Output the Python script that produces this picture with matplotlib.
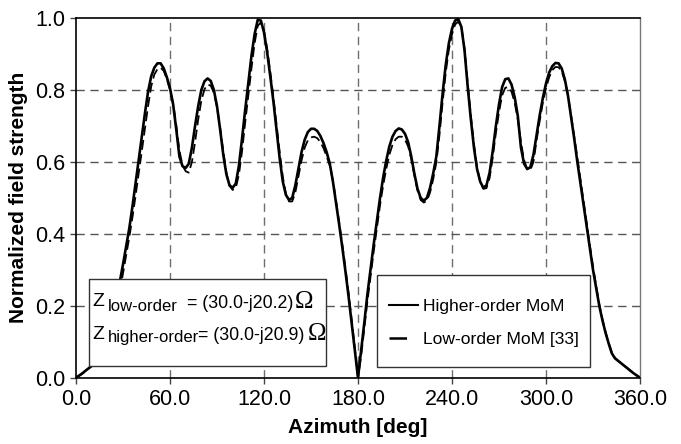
import matplotlib
matplotlib.use("Agg")
import matplotlib.pyplot as plt
from matplotlib.lines import Line2D
from matplotlib.patches import Rectangle

plt.rcParams['font.family'] = ['Liberation Sans', 'DejaVu Sans']

azimuth = list(range(0, 362, 2))

higher_order = [
    0.000, 0.006, 0.012, 0.019, 0.026, 0.033, 0.040, 0.047, 0.054, 0.068,
    0.092, 0.122, 0.158, 0.200, 0.268, 0.315, 0.365, 0.415, 0.475, 0.540,
    0.605, 0.670, 0.735, 0.795, 0.838, 0.862, 0.874, 0.874, 0.860, 0.835,
    0.805, 0.760, 0.690, 0.615, 0.588, 0.583, 0.595, 0.640, 0.700, 0.755,
    0.800, 0.824, 0.832, 0.825, 0.800, 0.755, 0.690, 0.620, 0.565, 0.535,
    0.528, 0.540, 0.590, 0.665, 0.745, 0.820, 0.895, 0.955, 0.995, 0.993,
    0.960, 0.905, 0.838, 0.768, 0.690, 0.610, 0.545, 0.508, 0.494, 0.500,
    0.535, 0.582, 0.628, 0.662, 0.683, 0.692, 0.692, 0.686, 0.672, 0.652,
    0.627, 0.595, 0.545, 0.485, 0.425, 0.362, 0.295, 0.225, 0.150, 0.075,
    0.000, 0.075, 0.152, 0.232, 0.302, 0.370, 0.435, 0.498, 0.555, 0.603,
    0.643, 0.670, 0.686, 0.693, 0.690, 0.678, 0.655, 0.615, 0.567, 0.525,
    0.500, 0.492, 0.500, 0.528, 0.568, 0.615, 0.700, 0.790, 0.870, 0.930,
    0.970, 0.993, 0.997, 0.975, 0.910, 0.810, 0.720, 0.640, 0.580, 0.545,
    0.528, 0.535, 0.570, 0.630, 0.700, 0.760, 0.808, 0.830, 0.832, 0.815,
    0.780, 0.728, 0.640, 0.595, 0.580, 0.585, 0.620, 0.675, 0.730, 0.778,
    0.818, 0.848, 0.866, 0.875, 0.874, 0.860, 0.830, 0.785, 0.725, 0.665,
    0.600, 0.540, 0.480, 0.420, 0.360, 0.300, 0.250, 0.200, 0.160, 0.125,
    0.095, 0.068, 0.054, 0.047, 0.040, 0.033, 0.026, 0.019, 0.012, 0.006,
    0.000,
]

low_order = [
    0.000, 0.005, 0.011, 0.018, 0.025, 0.032, 0.039, 0.046, 0.052, 0.062,
    0.082, 0.110, 0.145, 0.185, 0.240, 0.290, 0.340, 0.390, 0.445, 0.505,
    0.568, 0.632, 0.695, 0.755, 0.810, 0.843, 0.858, 0.862, 0.853, 0.830,
    0.800, 0.762, 0.702, 0.632, 0.590, 0.574, 0.570, 0.600, 0.655, 0.718,
    0.770, 0.802, 0.815, 0.812, 0.792, 0.752, 0.695, 0.630, 0.570, 0.533,
    0.522, 0.528, 0.565, 0.630, 0.710, 0.785, 0.860, 0.930, 0.978, 0.988,
    0.965, 0.915, 0.850, 0.780, 0.705, 0.628, 0.558, 0.510, 0.490, 0.490,
    0.515, 0.560, 0.605, 0.640, 0.660, 0.668, 0.670, 0.666, 0.655, 0.638,
    0.615, 0.590, 0.548, 0.492, 0.432, 0.370, 0.305, 0.235, 0.160, 0.082,
    0.000, 0.060, 0.135, 0.212, 0.282, 0.350, 0.415, 0.478, 0.533, 0.580,
    0.620, 0.647, 0.663, 0.670, 0.670, 0.662, 0.643, 0.608, 0.562, 0.520,
    0.494, 0.487, 0.492, 0.515, 0.552, 0.598, 0.675, 0.765, 0.848, 0.912,
    0.955, 0.982, 0.990, 0.975, 0.915, 0.820, 0.730, 0.650, 0.585, 0.545,
    0.525, 0.527, 0.555, 0.612, 0.680, 0.738, 0.785, 0.806, 0.808, 0.795,
    0.765, 0.718, 0.655, 0.605, 0.580, 0.577, 0.600, 0.660, 0.715, 0.765,
    0.805, 0.835, 0.855, 0.864, 0.863, 0.852, 0.825, 0.785, 0.730, 0.672,
    0.612, 0.552, 0.490, 0.430, 0.368, 0.310, 0.256, 0.205, 0.163, 0.127,
    0.097, 0.070, 0.055, 0.047, 0.040, 0.033, 0.026, 0.019, 0.012, 0.006,
    0.000,
]

x_ticks = [0, 60, 120, 180, 240, 300, 360]
x_ticklabels = ["0.0", "60.0", "120.0", "180.0", "240.0", "300.0", "360.0"]
y_ticks = [0.0, 0.2, 0.4, 0.6, 0.8, 1.0]
y_ticklabels = ["0.0", "0.2", "0.4", "0.6", "0.8", "1.0"]

series_labels = ["Higher-order MoM", "Low-order MoM [33]"]

W, H = 681, 444
fig = plt.figure(figsize=(W / 100, H / 100), dpi=100)
ax = fig.add_axes([76 / W, 1 - 377.7 / H, (640 - 76) / W, (377.7 - 18) / H])

def fx(px):
    return px / W

def fy(py):
    return 1 - py / H

ax.set_xlim(0, 360)
ax.set_ylim(0, 1.0)

# grid
for xv in x_ticks[1:-1]:
    ax.axvline(xv, color='#6e6e6e', lw=1.0, dashes=(6, 4), zorder=1)
for yv in y_ticks[1:-1]:
    ax.axhline(yv, color='#555555', lw=1.0, dashes=(6, 4), zorder=1)

ax.plot(azimuth, higher_order, color='black', lw=1.9, solid_joinstyle='round', zorder=3)
ax.plot(azimuth, low_order, color='black', lw=1.3, dashes=(5.5, 2.5), zorder=2.5)

ax.set_xticks(x_ticks)
ax.set_xticklabels(x_ticklabels)
ax.set_yticks(y_ticks)
ax.set_yticklabels(y_ticklabels)
ax.tick_params(axis='both', direction='out', length=4, width=1, labelsize=15.5, pad=4, color='#444444')

for s in ['left', 'bottom', 'top']:
    ax.spines[s].set_color('black')
    ax.spines[s].set_linewidth(1.2)
ax.spines['right'].set_color('#777777')
ax.spines['right'].set_linewidth(1.0)

ax.set_xlabel("Azimuth [deg]", fontsize=15, fontweight='bold', labelpad=6)
ax.set_ylabel("Normalized field strength", fontsize=15, fontweight='bold', labelpad=5)

# impedance box
box = Rectangle((fx(89.3), fy(366.0)), fx(325.7) - fx(89.3), fy(279.3) - fy(366.0),
                transform=fig.transFigure, facecolor='white', edgecolor='#333333',
                lw=1.0, zorder=4, clip_on=False)
ax.add_patch(box)

def t(px, py, s, size, **kw):
    ax.text(fx(px), fy(py), s, transform=fig.transFigure, fontsize=size,
            va='baseline', ha='left', zorder=5, **kw)

omega_family = ['Liberation Serif', 'DejaVu Serif']

t(92.0, 306.5, "Z", 14)
t(108.0, 310.5, "low-order", 12)
t(187.0, 308.5, "= (30.0-j20.2)", 12.8)
t(294.5, 308.5, "\u03a9", 18, family=omega_family)

t(92.0, 338.5, "Z", 14)
t(108.0, 342.0, "higher-order", 12)
t(198.5, 340.0, "= (30.0-j20.9)", 12.8)
t(307.5, 340.0, "\u03a9", 18, family=omega_family)

# legend frame (drawn separately to match the asymmetric padding)
leg_frame = Rectangle((fx(377.3), fy(366.7)), fx(590.0) - fx(377.3), fy(275.0) - fy(366.7),
                      transform=fig.transFigure, facecolor='white', edgecolor='#333333',
                      lw=1.0, zorder=5.5, clip_on=False)
ax.add_patch(leg_frame)

handles = [
    Line2D([], [], color='black', lw=1.5),
    Line2D([], [], color='black', lw=1.8, dashes=(7, 5.5)),
]
leg = ax.legend(handles, series_labels, loc='upper left',
                bbox_to_anchor=(fx(389.0), fy(298.5)), bbox_transform=fig.transFigure,
                fontsize=12.6, frameon=False,
                borderpad=0.0, labelspacing=1.05,
                handlelength=1.66, handletextpad=0.27, borderaxespad=0)
leg.set_zorder(6)

fig.savefig("out.png", dpi=100)
